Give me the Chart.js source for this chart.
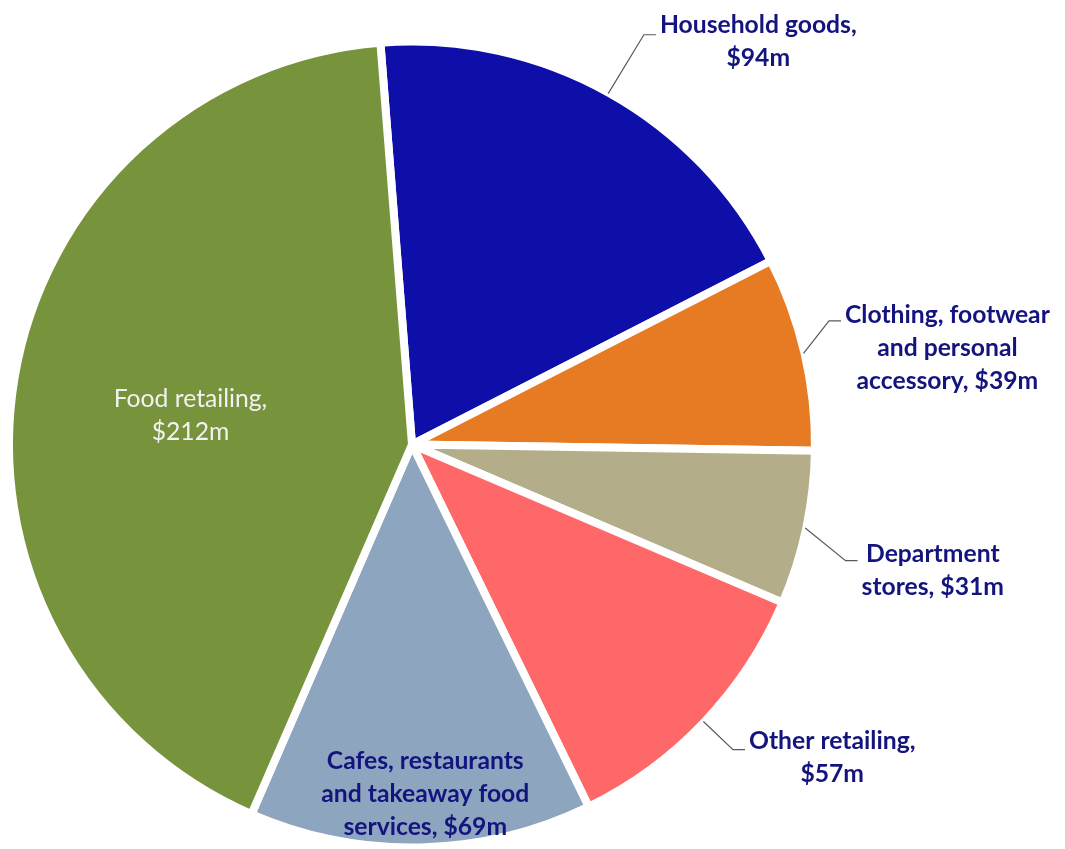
<!DOCTYPE html>
<html>
<head>
<meta charset="utf-8">
<script src="https://cdn.jsdelivr.net/npm/chart.js@4/dist/chart.umd.min.js"></script>
<style>
  html, body { margin: 0; padding: 0; background: #ffffff; }
  #wrap { width: 1065px; height: 849px; }
</style>
</head>
<body>
<div id="wrap"><canvas id="pieChart" width="1065" height="849"></canvas></div>
<script>
// data, $ millions
const categories = ["Household goods", "Clothing, footwear and personal accessory", "Department stores",
                    "Other retailing", "Cafes, restaurants and takeaway food services", "Food retailing"];
const values = [94, 39, 31, 57, 69, 212];
const labelLines = [
    ["Household goods,", "$94m"],
    ["Clothing, footwear", "and personal", "accessory, $39m"],
    ["Department", "stores, $31m"],
    ["Other retailing,", "$57m"],
    ["Cafes, restaurants", "and takeaway food", "services, $69m"],
    ["Food retailing,", "$212m"]
];
const colours = ["#0e0ea8", "#e67b24", "#b4ad8a", "#ff6868", "#8ea5bf", "#77933c"];

// where each label sits: outside labels get a leader line with an elbow
const labelLayout = [
    {inside: false, elbowR: 1.18, elbowDA: 0.3, dy: 7},
    {inside: false, elbowR: 1.09, elbowDA: -3.4, dy: 27},
    {inside: false, elbowR: 1.125, elbowDA: 3, dy: 10},
    {inside: false, elbowR: 1.11, elbowDA: 0, dy: 8},
    {inside: true, r: 0.877, da: -0.9, bold: true, colour: "#14147f"},
    {inside: true, r: 0.56, da: -2, bold: false, colour: "#f2f2f2"}
];

const lineHeight = 33;
const fontFamily = "Lato, 'Open Sans', sans-serif";
const fontSize = 24.7;
const navy = "#14147f";

const pieLabels = {
    id: "pieLabels",
    afterDraw(chart) {
        const ctx = chart.ctx;
        const arcs = chart.getDatasetMeta(0).data;
        ctx.save();
        ctx.textAlign = "center";
        ctx.textBaseline = "middle";
        arcs.forEach((arc, i) => {
            const lay = labelLayout[i];
            const lines = labelLines[i];
            const cx = arc.x, cy = arc.y, R = arc.outerRadius - 4;
            const mid = (arc.startAngle + arc.endAngle) / 2;
            if (lay.inside) {
                const a = mid + lay.da * Math.PI / 180;
                const tx = cx + Math.cos(a) * R * lay.r;
                const ty = cy + Math.sin(a) * R * lay.r;
                ctx.font = (lay.bold ? "bold " : "") + fontSize + "px " + fontFamily;
                ctx.fillStyle = lay.colour;
                lines.forEach((t, k) => {
                    ctx.fillText(t, tx, ty + (k - (lines.length - 1) / 2) * lineHeight);
                });
                return;
            }
            // leader line: edge -> elbow -> short horizontal
            const sx = cx + Math.cos(mid) * (R + 3);
            const sy = cy + Math.sin(mid) * (R + 3);
            const ea = mid + lay.elbowDA * Math.PI / 180;
            const ex = cx + Math.cos(ea) * R * lay.elbowR;
            const ey = cy + Math.sin(ea) * R * lay.elbowR;
            const hx = ex + 12;
            ctx.strokeStyle = "#595959";
            ctx.lineWidth = 1.2;
            ctx.beginPath();
            ctx.moveTo(sx, sy);
            ctx.lineTo(ex, ey);
            ctx.lineTo(hx, ey);
            ctx.stroke();
            ctx.font = "bold " + fontSize + "px " + fontFamily;
            ctx.fillStyle = navy;
            const w = Math.max(...lines.map(t => ctx.measureText(t).width));
            const tx = hx + 4 + w / 2;
            const ty = ey + lay.dy;
            lines.forEach((t, k) => {
                ctx.fillText(t, tx, ty + (k - (lines.length - 1) / 2) * lineHeight);
            });
        });
        ctx.restore();
    }
};

const ctx = document.getElementById("pieChart");
new Chart(ctx, {
    type: "pie",
    data: {
        labels: categories,
        datasets: [{
            data: values,
            backgroundColor: colours,
            borderColor: "#ffffff",
            borderWidth: 8
        }]
    },
    options: {
        responsive: false,
        animation: false,
        devicePixelRatio: 1,
        rotation: -4.5,
        radius: 403,
        layout: {padding: {left: 9, right: 250, top: 42, bottom: 2}},
        plugins: {
            legend: {display: false},
            tooltip: {enabled: false}
        }
    },
    plugins: [pieLabels]
});
</script>
</body>
</html>
